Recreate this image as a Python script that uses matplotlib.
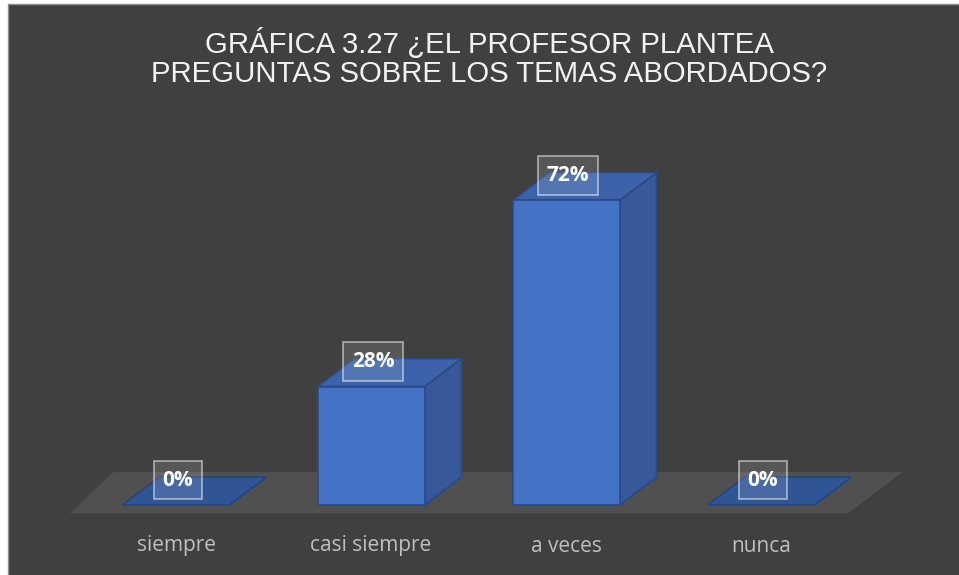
import numpy as np
import matplotlib.pyplot as plt
from matplotlib.patches import Polygon, Rectangle

# data
categories = ["siempre", "casi siempre", "a veces", "nunca"]
values = [0, 28, 72, 0]
labels = ["0%", "28%", "72%", "0%"]
title = "GRÁFICA 3.27 ¿EL PROFESOR PLANTEA\nPREGUNTAS SOBRE LOS TEMAS ABORDADOS?"

bg = "#404040"
front_c = "#4472C4"
side_c = "#37599A"
top_c = "#3B62AA"
edge_c = "#2A4A85"

fig = plt.figure(figsize=(9.59, 5.75), dpi=100)
fig.patch.set_facecolor("white")

# chart area (white strip at top/left like the screenshot)
fig.patches.append(Rectangle((8 / 959, -0.01), 1.01, 1.01 - 4 / 575, transform=fig.transFigure,
                             facecolor=bg, edgecolor="#8C8C8C", linewidth=1, zorder=-5))

ax = fig.add_axes([0, 0, 1, 1])
ax.set_zorder(2)
ax.set_facecolor("none")
# x: category index (195 px each), y: percent (4.23 px per %)
ax.set_xlim(-176 / 195, (959 - 176) / 195)
ax.set_ylim((505 - 575) / 4.23, 505 / 4.23)
ax.axis("off")

w = 107 / 195      # bar width in category units
ddx = 37 / 195     # depth shift x
ddy = 28 / 4.23    # depth shift y (in %)

# floor
floor = Polygon([(-0.544, -2.0), (3.446, -2.0), (3.728, 7.8), (-0.323, 7.8)],
                closed=True, facecolor="#505050", edgecolor="none", zorder=1)
ax.add_patch(floor)

x = np.arange(len(categories))
for i, v in zip(x, values):
    x0 = i - w / 2
    x1 = i + w / 2
    if v > 0:
        # side face
        ax.add_patch(Polygon([(x1, 0), (x1 + ddx, ddy), (x1 + ddx, v + ddy), (x1, v)],
                             closed=True, facecolor=side_c, edgecolor=edge_c,
                             linewidth=1.2, zorder=3))
        # top face
        ax.add_patch(Polygon([(x0, v), (x1, v), (x1 + ddx, v + ddy), (x0 + ddx, v + ddy)],
                             closed=True, facecolor=top_c, edgecolor=edge_c,
                             linewidth=1.2, zorder=3))
    else:
        ax.add_patch(Polygon([(x0, v), (x1, v), (x1 + ddx, v + ddy), (x0 + ddx, v + ddy)],
                             closed=True, facecolor="#2F5597", edgecolor="#25457E",
                             linewidth=1.2, zorder=3))

ax.bar(x, values, width=w, bottom=0, color=front_c, edgecolor=edge_c,
       linewidth=1.2, zorder=4)

# value labels
for i, v, lab in zip(x, values, labels):
    ax.text(i + 0.01, v + 25 / 4.23, lab, ha="center", va="center",
            fontsize=15, fontweight="bold", color="white", family="Open Sans", zorder=6,
            bbox=dict(boxstyle="square,pad=0.42", facecolor=(1, 1, 1, 0.12),
                      edgecolor=(1, 1, 1, 0.55), linewidth=1.2))

# category labels
for i, cat in zip(x, categories):
    ax.text(i, (505 - 546) / 4.23, cat, ha="center", va="center",
            fontsize=15, color="#BFBFBF", family="Open Sans", zorder=6)

fig.text(489 / 959, 1 - 58 / 575, title, ha="center", va="center",
         fontsize=21.2, color="#F2F2F2", family="Liberation Sans", linespacing=1.05)

plt.savefig("out.png", dpi=100, facecolor=fig.get_facecolor())
